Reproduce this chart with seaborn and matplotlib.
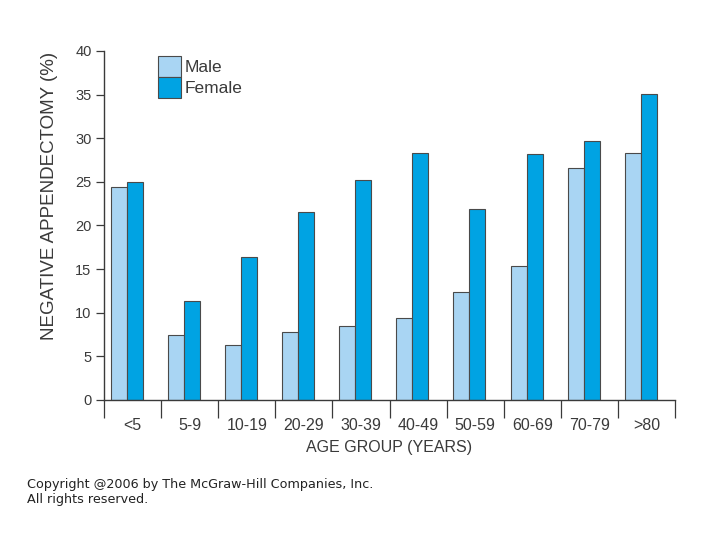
import numpy as np
import pandas as pd
import matplotlib
matplotlib.use("Agg")
import matplotlib.pyplot as plt
import seaborn as sns

age_groups = ["<5", "5-9", "10-19", "20-29", "30-39", "40-49", "50-59", "60-69", "70-79", ">80"]
male = [24.4, 7.45, 6.3, 7.8, 8.5, 9.4, 12.4, 15.4, 26.6, 28.3]
female = [25.0, 11.4, 16.4, 21.5, 25.2, 28.3, 21.9, 28.2, 29.7, 35.1]
series = ["Male", "Female"]
y_ticks = [0, 5, 10, 15, 20, 25, 30, 35, 40]

df = pd.DataFrame({
    "age": age_groups * 2,
    "value": male + female,
    "sex": [series[0]] * len(age_groups) + [series[1]] * len(age_groups),
})

sns.set_theme(style="white")
plt.rcParams["font.family"] = ["Liberation Sans", "DejaVu Sans"]

fig = plt.figure(figsize=(7.2, 5.4), dpi=100)
ax = fig.add_axes([0.1445, 0.2593, 0.793, 0.6463])

dark = "#3a3a3a"
sns.barplot(data=df, x="age", y="value", hue="sex", order=age_groups,
            hue_order=series, palette=["#a9d5f3", "#00a3e3"], saturation=1,
            width=0.56, edgecolor="#4a4a4a", linewidth=0.8, ax=ax, legend=True)

ax.set_xlim(-0.4, 9.6)
ax.set_ylim(0, 40)
ax.set_yticks(y_ticks)
ax.set_yticklabels([str(v) for v in y_ticks], fontsize=10.5, color=dark)
ax.tick_params(axis="y", left=True, length=6, width=0.9, color=dark, pad=3)

ax.set_xticks(np.arange(len(age_groups)) + 0.1)
ax.set_xticklabels(age_groups, fontsize=11.5, color=dark)
ax.tick_params(axis="x", which="major", length=0, pad=13)
ax.set_xticks(np.arange(len(age_groups) + 1) - 0.4, minor=True)
ax.tick_params(axis="x", which="minor", bottom=True, length=13, width=0.9, color=dark)

for s in ["top", "right"]:
    ax.spines[s].set_visible(False)
for s in ["left", "bottom"]:
    ax.spines[s].set_color(dark)
    ax.spines[s].set_linewidth(1.0)

ax.set_xlabel("AGE GROUP (YEARS)", fontsize=11.5, color=dark, labelpad=5)
ax.set_ylabel("NEGATIVE APPENDECTOMY (%)", fontsize=13.5, color=dark)
ax.yaxis.set_label_coords(-0.08, 0.585)

handles, labels = ax.get_legend_handles_labels()
ax.legend(handles, labels, loc="upper left", bbox_to_anchor=(0.077, 1.012),
          frameon=False, fontsize=12.5, handlelength=1.35, handleheight=1.45,
          labelspacing=0.0, handletextpad=0.2, borderaxespad=0.15,
          labelcolor=dark)

fig.text(0.0375, 0.088, "Copyright @2006 by The McGraw-Hill Companies, Inc.\nAll rights reserved.",
         fontsize=9.2, family="DejaVu Sans", color="#222222", va="center", ha="left",
         linespacing=1.2)

fig.savefig("out.png", dpi=100, facecolor="white")
